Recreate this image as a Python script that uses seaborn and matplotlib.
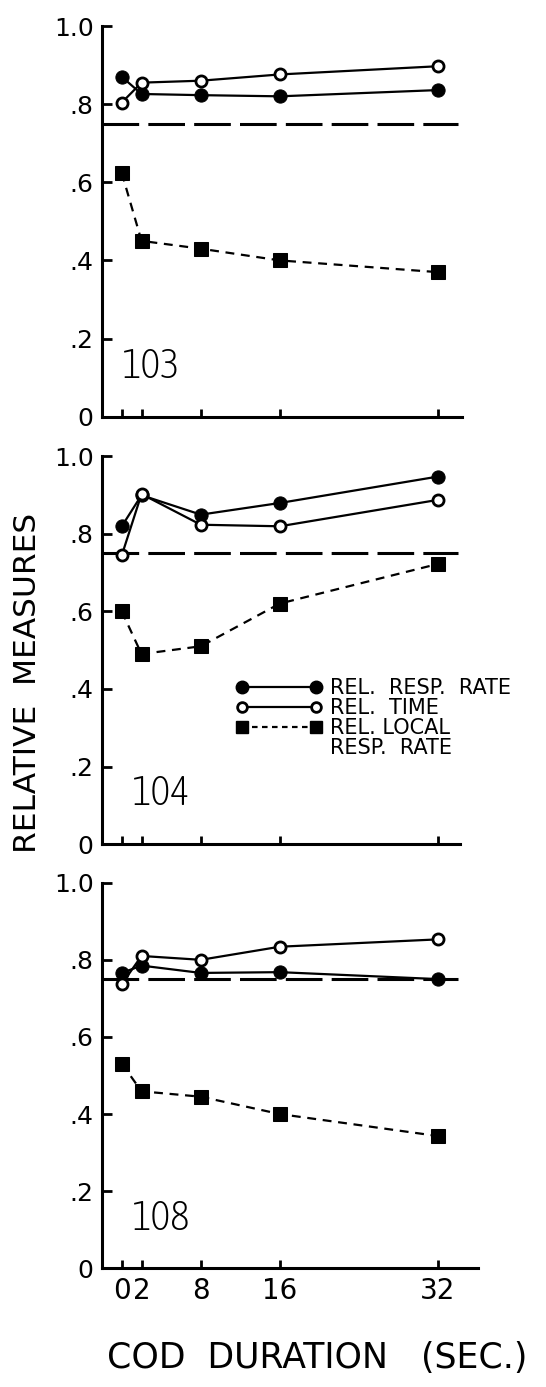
import matplotlib
matplotlib.use("Agg")
import matplotlib.pyplot as plt
import seaborn as sns
import pandas as pd
from matplotlib.lines import Line2D
from matplotlib import font_manager as fm

# ---------------- data ----------------
cod = [0, 2, 8, 16, 32]
subjects = ["103", "104", "108"]
rate_103 = [0.870, 0.826, 0.823, 0.820, 0.836]
time_103 = [0.804, 0.855, 0.860, 0.876, 0.897]
local_103 = [0.624, 0.450, 0.430, 0.400, 0.370]
rate_104 = [0.819, 0.899, 0.849, 0.879, 0.947]
time_104 = [0.744, 0.902, 0.823, 0.819, 0.887]
local_104 = [0.600, 0.490, 0.510, 0.620, 0.722]
rate_108 = [0.766, 0.785, 0.766, 0.768, 0.750]
time_108 = [0.737, 0.810, 0.800, 0.834, 0.853]
local_108 = [0.531, 0.459, 0.445, 0.400, 0.343]
ref_level = 0.75
yticks = [0, 0.2, 0.4, 0.6, 0.8, 1.0]
ytick_labels = ["0", ".2", ".4", ".6", ".8", "1.0"]
xtick_labels = ["0", "2", "8", "16", "32"]
legend_labels = ["REL.  RESP.  RATE", "REL.  TIME", "REL. LOCAL", "RESP.  RATE"]

rates = [rate_103, rate_104, rate_108]
times = [time_103, time_104, time_108]
locals_ = [local_103, local_104, local_108]

sns.set_style("ticks")
plt.rcParams["font.family"] = ["DejaVu Sans"]
for k in ["text.color", "axes.labelcolor", "xtick.color", "ytick.color", "axes.edgecolor"]:
    plt.rcParams[k] = "black"


def pick_condensed():
    cands = []
    for f in fm.fontManager.ttflist:
        fn = f.fname.lower()
        if ("condensed" in fn or "narrow" in fn) and not any(
                s in fn for s in ["bold", "italic", "oblique", "black"]):
            cands.append(f.fname)
    if not cands:
        return None
    cands.sort(key=lambda p: (0 if "light" in p.lower() else 1, p))
    return cands[0]


cond_path = pick_condensed()


def num_font(size):
    if cond_path:
        return fm.FontProperties(fname=cond_path, size=size)
    return fm.FontProperties(family="DejaVu Sans", size=size * 0.8)


W, H = 546, 1387
fig = plt.figure(figsize=(W / 100, H / 100), dpi=100)

# panel geometry in pixels: (top, bottom, right)
geo = [(26, 416.7, 462), (456, 844.3, 460), (882.7, 1268.3, 478)]
left_px = 102
px_per_unit = 9.88
x0 = -2.0

for i, (top, bot, right) in enumerate(geo):
    ax = fig.add_axes([left_px / W, 1 - bot / H, (right - left_px) / W, (bot - top) / H])
    df = pd.DataFrame({"cod": cod, "rate": rates[i], "time": times[i], "local": locals_[i]})

    ax.axhline(ref_level, xmin=0, xmax=(34.0 - x0) / ((right - left_px) / px_per_unit),
               color="black", lw=2.2, linestyle=(0, (12, 3)), zorder=1)

    sns.lineplot(data=df, x="cod", y="rate", ax=ax, color="black", lw=1.6,
                 marker="o", markersize=9.5, markerfacecolor="black",
                 markeredgecolor="black", clip_on=False, zorder=3)
    sns.lineplot(data=df, x="cod", y="time", ax=ax, color="black", lw=1.6,
                 marker="o", markersize=8, markerfacecolor="white",
                 markeredgecolor="black", markeredgewidth=2, clip_on=False, zorder=4)
    sns.lineplot(data=df, x="cod", y="local", ax=ax, color="black", lw=1.6,
                 linestyle=(0, (4, 3)), marker="s", markersize=10,
                 markerfacecolor="black", markeredgecolor="black",
                 clip_on=False, zorder=3)

    ax.set_xlim(x0, x0 + (right - left_px) / px_per_unit)
    ax.set_ylim(0, 1.0)
    ax.set_yticks(yticks)
    ax.set_yticklabels(ytick_labels)
    ax.set_xticks(cod)
    if i == 2:
        ax.set_xticklabels(xtick_labels)
    else:
        ax.set_xticklabels([])
    ax.set_xlabel("")
    ax.set_ylabel("")
    for s in ["top", "right"]:
        ax.spines[s].set_visible(False)
    for s in ["left", "bottom"]:
        ax.spines[s].set_linewidth(2.2)
    ax.tick_params(axis="y", direction="in", length=7, width=2, labelsize=18, pad=6)
    ax.tick_params(axis="x", direction="in", length=6, width=2, labelsize=20, pad=6)
    ax.patch.set_alpha(0)

    ax.text(0.0 if i == 0 else 1.0, 0.10, subjects[i], fontproperties=num_font(30),
            ha="left", va="baseline")

    if i == 1:
        handles = [
            Line2D([], [], color="black", lw=1.6, marker="o", markersize=9,
                   markerfacecolor="black"),
            Line2D([], [], color="black", lw=1.6, marker="o", markersize=7,
                   markerfacecolor="white", markeredgewidth=2),
            Line2D([], [], color="black", lw=1.6, linestyle=(0, (2.5, 2)),
                   marker="s", markersize=9, markerfacecolor="black"),
            Line2D([], [], linestyle="none"),
        ]
        fs = 15
        hl = 74 / (fs * 100 / 72) + 0.6
        ax.legend(handles, legend_labels, numpoints=2, loc="center left",
                  bbox_to_anchor=(0.374, 0.324), frameon=False, fontsize=fs,
                  handlelength=hl, handletextpad=0.35, labelspacing=0.0,
                  borderpad=0, borderaxespad=0)

fig.text(28 / W, 1 - 683 / H, "RELATIVE  MEASURES", rotation=90,
         ha="center", va="center", fontsize=22.5)
fig.text(317 / W, 1 - 1358 / H, "COD  DURATION   (SEC.)",
         ha="center", va="center", fontsize=25)

fig.savefig("out.png", dpi=100)
